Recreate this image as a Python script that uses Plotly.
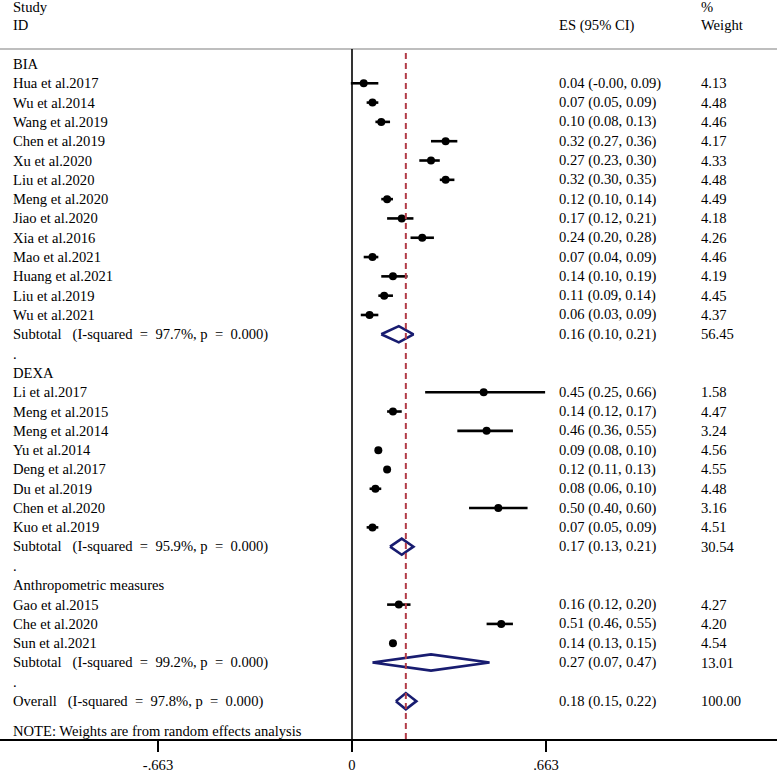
import plotly.graph_objects as go

# ---- data ----
groups = ["BIA", "DEXA", "Anthropometric measures"]

bia_studies = ["Hua et al.2017", "Wu et al.2014", "Wang et al.2019", "Chen et al.2019",
               "Xu et al.2020", "Liu et al.2020", "Meng et al.2020", "Jiao et al.2020",
               "Xia et al.2016", "Mao et al.2021", "Huang et al.2021", "Liu et al.2019",
               "Wu et al.2021"]
bia_es = [0.04, 0.07, 0.10, 0.32, 0.27, 0.32, 0.12, 0.17, 0.24, 0.07, 0.14, 0.11, 0.06]
bia_lo = [-0.004, 0.05, 0.08, 0.27, 0.23, 0.30, 0.10, 0.12, 0.20, 0.04, 0.10, 0.09, 0.03]
bia_hi = [0.09, 0.09, 0.13, 0.36, 0.30, 0.35, 0.14, 0.21, 0.28, 0.09, 0.19, 0.14, 0.09]
bia_w = ["4.13", "4.48", "4.46", "4.17", "4.33", "4.48", "4.49", "4.18", "4.26", "4.46",
         "4.19", "4.45", "4.37"]

dexa_studies = ["Li et al.2017", "Meng et al.2015", "Meng et al.2014", "Yu et al.2014",
                "Deng et al.2017", "Du et al.2019", "Chen et al.2020", "Kuo et al.2019"]
dexa_es = [0.45, 0.14, 0.46, 0.09, 0.12, 0.08, 0.50, 0.07]
dexa_lo = [0.25, 0.12, 0.36, 0.08, 0.11, 0.06, 0.40, 0.05]
dexa_hi = [0.66, 0.17, 0.55, 0.10, 0.13, 0.10, 0.60, 0.09]
dexa_w = ["1.58", "4.47", "3.24", "4.56", "4.55", "4.48", "3.16", "4.51"]

anth_studies = ["Gao et al.2015", "Che et al.2020", "Sun et al.2021"]
anth_es = [0.16, 0.51, 0.14]
anth_lo = [0.12, 0.46, 0.13]
anth_hi = [0.20, 0.55, 0.15]
anth_w = ["4.27", "4.20", "4.54"]

sub_isq = ["97.7%", "95.9%", "99.2%"]
sub_es = [0.16, 0.17, 0.27]
sub_lo = [0.10, 0.13, 0.07]
sub_hi = [0.21, 0.21, 0.47]
sub_w = ["56.45", "30.54", "13.01"]

overall_isq = "97.8%"
overall_es, overall_lo, overall_hi, overall_w = 0.184, 0.15, 0.22, "100.00"

note_text = "NOTE: Weights are from random effects analysis"
tick_vals = [-0.663, 0, 0.663]
tick_text = ["-.663", "0", ".663"]

# ---- build rows ----
study_sets = [
    (bia_studies, bia_es, bia_lo, bia_hi, bia_w),
    (dexa_studies, dexa_es, dexa_lo, dexa_hi, dexa_w),
    (anth_studies, anth_es, anth_lo, anth_hi, anth_w),
]

FONT = "Liberation Serif"
FS = 14.6
NAVY = "rgb(24,28,112)"
RED = "rgb(178,60,72)"
NB = "\u00a0"

def fmt(v):
    return f"{v:.2f}"

def het_label(head, isq):
    return (f"{head}{NB}{NB} (I-squared{NB} ={NB} {isq}, p{NB} ={NB} 0.000)")

rows_text = []  # (row, label, es_text, weight)
pts_x, pts_y = [], []
ci_x, ci_y = [], []
dia_x, dia_y = [], []

row = 0
H = 0.42
for gi, (names, es, lo, hi, w) in enumerate(study_sets):
    rows_text.append((row, groups[gi], "", ""))
    row += 1
    for n, e, l, h, ww in zip(names, es, lo, hi, w):
        rows_text.append((row, n, f"{fmt(e)} ({fmt(l)}, {fmt(h)})", ww))
        pts_x.append(e); pts_y.append(row)
        ci_x += [l, h, None]; ci_y += [row, row, None]
        row += 1
    rows_text.append((row, het_label("Subtotal", sub_isq[gi]),
                      f"{fmt(sub_es[gi])} ({fmt(sub_lo[gi])}, {fmt(sub_hi[gi])})", sub_w[gi]))
    dia_x += [sub_lo[gi], sub_es[gi], sub_hi[gi], sub_es[gi], sub_lo[gi], None]
    dia_y += [row, row - H, row, row + H, row, None]
    row += 1
    rows_text.append((row, ".", "", ""))
    row += 1

rows_text.append((row, het_label("Overall", overall_isq),
                  f"{fmt(overall_es)} ({fmt(overall_lo)}, {fmt(overall_hi)})", overall_w))
dia_x += [overall_lo, overall_es, overall_hi, overall_es, overall_lo]
dia_y += [row, row - H, row, row + H, row]
overall_row = row

fig = go.Figure()
fig.add_trace(go.Scatter(x=ci_x, y=ci_y, mode="lines",
                         line=dict(color="black", width=2.6), hoverinfo="skip"))
fig.add_trace(go.Scatter(x=pts_x, y=pts_y, mode="markers",
                         marker=dict(color="black", size=8, line=dict(width=0))))
fig.add_trace(go.Scatter(x=dia_x, y=dia_y, mode="lines",
                         line=dict(color=NAVY, width=2.6), hoverinfo="skip"))

ann = []
X_LAB, X_ES, X_W = 11 / 777, 557 / 777, 699 / 777
for r, lab, est, ww in rows_text:
    ann.append(dict(x=X_LAB, y=r, xref="paper", yref="y", text=lab, showarrow=False,
                    xanchor="left", yanchor="middle"))
    if est:
        ann.append(dict(x=X_ES, y=r, xref="paper", yref="y", text=est, showarrow=False,
                        xanchor="left", yanchor="middle"))
        ann.append(dict(x=X_W, y=r, xref="paper", yref="y", text=ww, showarrow=False,
                        xanchor="left", yanchor="middle"))

# headers (paper coordinates above the plot area)
Y1 = (741 - 7) / 692
Y2 = (741 - 25) / 692
for x, y, t in [(X_LAB, Y1, "Study"), (X_LAB, Y2, "ID"), (X_ES, Y2, "ES (95% CI)"),
                (X_W, Y1, "%"), (X_W, Y2, "Weight")]:
    ann.append(dict(x=x, y=y, xref="paper", yref="paper", text=t, showarrow=False,
                    xanchor="left", yanchor="middle"))
ann.append(dict(x=X_LAB, y=overall_row + 1.55, xref="paper", yref="y", text=note_text,
                showarrow=False, xanchor="left", yanchor="middle"))

shapes = [
    dict(type="line", xref="paper", yref="paper", x0=0, x1=1, y0=1, y1=1,
         line=dict(color="rgb(190,190,190)", width=2)),
    dict(type="line", xref="x", yref="paper", x0=0, x1=0, y0=0, y1=1,
         line=dict(color="black", width=1.6)),
    dict(type="line", xref="x", yref="paper", x0=overall_es, x1=overall_es, y0=0, y1=1,
         line=dict(color=RED, width=2, dash="6px,4px")),
]

fig.update_layout(
    width=777, height=773,
    margin=dict(l=0, r=0, t=49, b=32, pad=0),
    paper_bgcolor="white", plot_bgcolor="white",
    showlegend=False,
    font=dict(family=FONT, size=FS, color="black"),
    annotations=ann, shapes=shapes,
    xaxis=dict(range=[-1.203, 1.4525], showgrid=False, zeroline=False,
               showline=True, linecolor="black", linewidth=2,
               ticks="outside", ticklen=11, tickwidth=2, tickcolor="black",
               tickvals=tick_vals, ticktext=tick_text,
               tickfont=dict(family=FONT, size=FS, color="black"),
               fixedrange=True),
    yaxis=dict(range=[34.96, -0.775], visible=False, fixedrange=True),
)

fig.write_html("out.html", config={"displayModeBar": False},
               post_script="document.body.style.margin='0px';")
